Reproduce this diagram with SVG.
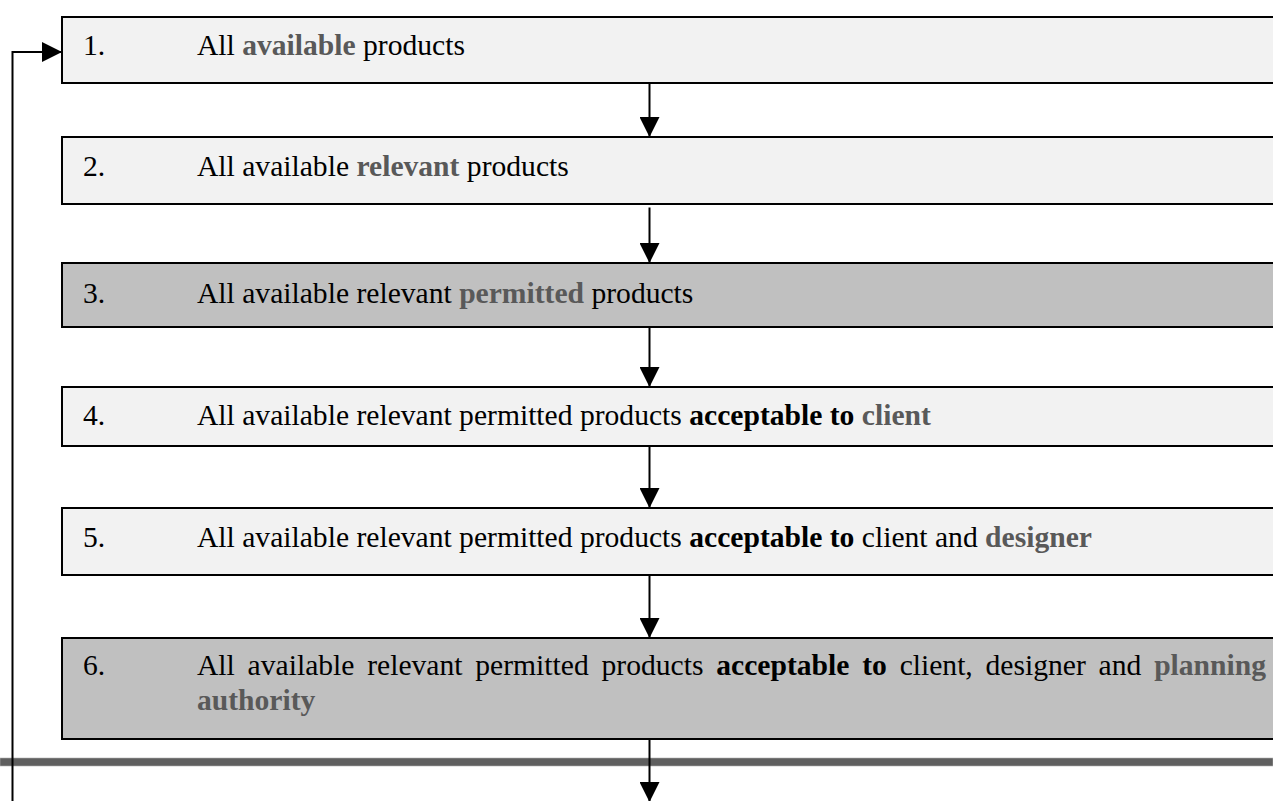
<svg xmlns="http://www.w3.org/2000/svg" width="1273" height="801" viewBox="0 0 1273 801">
  <style>
    .box { stroke: #000; stroke-width: 2; }
    .light { fill: #f2f2f2; }
    .dark { fill: #c0c0c0; }
    .t { font-family: "Liberation Serif", "Times New Roman", serif; font-size: 29.6px; fill: #000; }
    .b { font-weight: bold; }
    .g { font-weight: bold; fill: #595959; }
    .wire { stroke: #000; stroke-width: 2; fill: none; }
  </style>
  <defs>
    <marker id="arrow" viewBox="0 0 20 20" refX="20" refY="10" markerWidth="20" markerHeight="20" markerUnits="userSpaceOnUse" orient="auto">
      <path d="M0,0 L20,10 L0,20 Z" fill="#000"/>
    </marker>
  </defs>

  <rect width="1273" height="801" fill="#fff"/>

  <g id="step1">
    <rect class="box light" x="62" y="17" width="1230" height="66"/>
    <text class="t" x="83" y="55">1.</text>
    <text class="t" x="197" y="55">All <tspan class="g">available</tspan> products</text>
  </g>

  <g id="step2">
    <rect class="box light" x="62" y="137" width="1230" height="67"/>
    <text class="t" x="83" y="176">2.</text>
    <text class="t" x="197" y="176">All available <tspan class="g">relevant</tspan> products</text>
  </g>

  <g id="step3">
    <rect class="box dark" x="62" y="263" width="1230" height="64"/>
    <text class="t" x="83" y="302.5">3.</text>
    <text class="t" x="197" y="302.5">All available relevant <tspan class="g">permitted</tspan> products</text>
  </g>

  <g id="step4">
    <rect class="box light" x="62" y="387" width="1230" height="59"/>
    <text class="t" x="83" y="425">4.</text>
    <text class="t" x="197" y="425">All available relevant permitted products <tspan class="b">acceptable to</tspan> <tspan class="g">client</tspan></text>
  </g>

  <g id="step5">
    <rect class="box light" x="62" y="508" width="1230" height="67"/>
    <text class="t" x="83" y="546.5">5.</text>
    <text class="t" x="197" y="546.5">All available relevant permitted products <tspan class="b">acceptable to</tspan> client and <tspan class="g">designer</tspan></text>
  </g>

  <g id="step6">
    <rect class="box dark" x="62" y="638" width="1230" height="101"/>
    <text class="t" x="83" y="675">6.</text>
    <text class="t" x="197" y="675" word-spacing="5.4">All available relevant permitted products <tspan class="b">acceptable to</tspan> client, designer and <tspan class="g">planning</tspan></text>
    <text class="t" x="197" y="710"><tspan class="g">authority</tspan></text>
  </g>

  <g id="divider">
    <rect x="0" y="758" width="1273" height="8" fill="#5f5f5f" stroke="#b0b0b0" stroke-width="0.6"/>
  </g>

  <g id="connectors">
    <line class="wire" x1="649.5" y1="83" x2="649.5" y2="137" marker-end="url(#arrow)"/>
    <line class="wire" x1="649.5" y1="207.5" x2="649.5" y2="263" marker-end="url(#arrow)"/>
    <line class="wire" x1="649.5" y1="327" x2="649.5" y2="387" marker-end="url(#arrow)"/>
    <line class="wire" x1="649.5" y1="446" x2="649.5" y2="508" marker-end="url(#arrow)"/>
    <line class="wire" x1="649.5" y1="575" x2="649.5" y2="638" marker-end="url(#arrow)"/>
    <line class="wire" x1="649.5" y1="739" x2="649.5" y2="802" marker-end="url(#arrow)"/>
    <polyline class="wire" points="12.5,801 12.5,52 62,52" marker-end="url(#arrow)"/>
  </g>
</svg>
